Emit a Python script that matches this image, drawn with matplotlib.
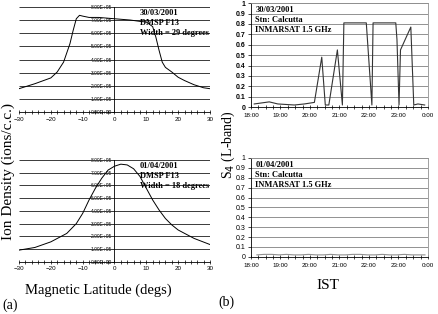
import numpy as np
import matplotlib
matplotlib.use("Agg")
import matplotlib.pyplot as plt
from matplotlib.ticker import FuncFormatter, MultipleLocator

# Ion density (x1e5 ions/c.c.) vs magnetic latitude, DMSP F13
lat_a = [-30, -25, -20, -18, -16, -14, -13, -12, -11, -10, -8, -5, 0, 5, 8, 10,
         12, 13, 14, 15, 16, 18, 20, 22, 25, 28, 30]
ni_a = [1.78, 2.16, 2.6, 3.05, 3.8, 5.2, 6.2, 7.1, 7.36, 7.3, 7.2, 7.2, 7.1, 7.0,
        6.9, 6.85, 6.5, 5.7, 4.7, 3.8, 3.4, 3.05, 2.65, 2.4, 2.08, 1.85, 1.78]
lat_b = [-30, -25, -20, -15, -12, -10, -8, -6, -4, -2, 0, 2, 4, 6, 8, 10, 12, 14,
         16, 18, 20, 25, 30]
ni_b = [0.92, 1.13, 1.57, 2.23, 3.0, 3.8, 4.85, 5.77, 6.56, 7.2, 7.5, 7.66, 7.6,
        7.3, 6.7, 5.77, 4.85, 4.07, 3.4, 2.9, 2.5, 1.84, 1.36]

# S4 index (L-band) vs IST hour, Calcutta
t_a = [18.11, 18.62, 18.91, 19.47, 19.81, 20.15, 20.40, 20.52, 20.64, 20.93, 21.10,
       21.15, 21.91, 22.10, 22.14, 22.91, 22.95, 23.02, 23.07, 23.42, 23.52, 23.66, 23.89]
s4_a = [0.03, 0.05, 0.03, 0.02, 0.03, 0.045, 0.48, 0.02, 0.02, 0.55, 0.02,
        0.81, 0.81, 0.02, 0.81, 0.81, 0.65, 0.02, 0.55, 0.77, 0.02, 0.03, 0.02]
t_b = [18.2, 18.45, 18.7, 18.95, 19.2, 19.45, 19.7, 19.95, 20.2, 20.45, 20.7, 20.95,
       21.2, 21.45, 21.7, 21.95, 22.2, 22.45, 22.7, 22.95, 23.2, 23.45, 23.7, 23.9]
s4_b = [0.02, 0.025, 0.025, 0.02, 0.025, 0.02, 0.02, 0.025, 0.02, 0.02, 0.025, 0.02,
        0.02, 0.025, 0.025, 0.02, 0.02, 0.025, 0.02, 0.02, 0.025, 0.02, 0.02, 0.02]

time_ticks = [18, 19, 20, 21, 22, 23, 24]
time_labels = ["18:00", "19:00", "20:00", "21:00", "22:00", "23:00", "0:00"]
dens_ticks = [0, 1e5, 2e5, 3e5, 4e5, 5e5, 6e5, 7e5, 8e5]

serif = "Liberation Serif"
sans = "Liberation Sans"

fig = plt.figure(figsize=(4.38, 3.14), dpi=100)


def density_panel(rect, x, y, note):
    ax = fig.add_axes(rect)
    ax.set_xlim(-30, 30)
    ax.set_ylim(0, 8e5)
    ax.hlines(dens_ticks[1:], -30, 30, colors="#3a3a3a", linewidth=0.7)
    ax.plot(x, [v * 1e5 for v in y], color="black", lw=0.7)
    ax.set_xlim(-30, 30)
    ax.set_ylim(0, 8e5)
    for s in ["top", "right"]:
        ax.spines[s].set_visible(False)
    ax.spines["left"].set_position(("data", 0))
    ax.spines["left"].set_linewidth(0.6)
    ax.spines["bottom"].set_linewidth(0.6)
    ax.set_yticks(dens_ticks)
    ax.yaxis.set_major_formatter(FuncFormatter(lambda v, p: "%.2fE+05" % (v / 1e5) if v > 0 else "0.00E+00"))
    ax.set_xticks([-30, -20, -10, 0, 10, 20, 30])
    ax.xaxis.set_minor_locator(MultipleLocator(2))
    ax.tick_params(axis="y", labelsize=3.5, length=1.5, width=0.5, pad=0.5)
    ax.tick_params(axis="x", which="both", direction="inout", length=2.5, width=0.5, labelsize=4.5, pad=2)
    for lab in ax.get_xticklabels() + ax.get_yticklabels():
        lab.set_fontfamily(sans)
    ax.text(8, 7.85e5, note, fontsize=6, fontweight="bold", family=serif,
            va="top", ha="left", linespacing=1.35)
    return ax


def s4_panel(rect, t, s, note, color, bold):
    ax = fig.add_axes(rect)
    ax.plot(t, s, color=color, lw=0.8, zorder=3)
    ax.set_xlim(18, 24)
    ax.set_ylim(0, 1)
    ax.set_yticks(np.arange(0, 1.01, 0.1))
    ax.yaxis.set_major_formatter(FuncFormatter(lambda v, p: "%g" % round(v, 1)))
    ax.set_xticks(time_ticks)
    ax.set_xticklabels(time_labels)
    ax.xaxis.set_minor_locator(MultipleLocator(0.25))
    ax.grid(axis="y", color="#808080", lw=0.6)
    ax.set_axisbelow(True)
    for s_ in ["top", "right"]:
        ax.spines[s_].set_color("#909090")
        ax.spines[s_].set_linewidth(0.6)
    ax.spines["left"].set_linewidth(0.6)
    ax.spines["bottom"].set_linewidth(0.6)
    ax.tick_params(axis="y", labelsize=5, length=2, width=0.5, pad=2)
    ax.tick_params(axis="x", which="both", direction="inout", length=2.5, width=0.5, labelsize=4.5, pad=3)
    for lab in ax.get_yticklabels():
        lab.set_fontfamily(sans)
        if bold:
            lab.set_fontweight("bold")
    for lab in ax.get_xticklabels():
        lab.set_fontfamily(sans)
    ax.text(18.15, 0.97, note, fontsize=6, fontweight="bold", family=serif,
            va="top", ha="left", linespacing=1.35)
    return ax


density_panel([0.0434, 0.643, 0.436, 0.335], lat_a, ni_a, "30/03/2001\nDMSP F13\nWidth = 29 degrees")
density_panel([0.0434, 0.166, 0.436, 0.325], lat_b, ni_b, "01/04/2001\nDMSP F13\nWidth = 18 degrees")
s4_panel([0.573, 0.659, 0.404, 0.331], t_a, s4_a, "30/03/2001\nStn: Calcutta\nINMARSAT 1.5 GHz", "#333333", True)
s4_panel([0.573, 0.182, 0.404, 0.315], t_b, s4_b, "01/04/2001\nStn: Calcutta\nINMARSAT 1.5 GHz", "#909090", False)

fig.text(0.019, 0.455, "Ion Density (ions/c.c.)", rotation=90, fontsize=11, family=serif, ha="center", va="center")
fig.text(0.225, 0.076, "Magnetic Latitude (degs)", fontsize=10.5, family=serif, ha="center", va="center")
fig.text(0.005, 0.028, "(a)", fontsize=10, family=serif, ha="left", va="center")
fig.text(0.521, 0.54, "S$_4$ (L-band)", rotation=90, fontsize=10, family=serif, ha="center", va="center")
fig.text(0.749, 0.092, "IST", fontsize=11, family=serif, ha="center", va="center")
fig.text(0.498, 0.038, "(b)", fontsize=10, family=serif, ha="left", va="center")

fig.savefig("out.png", dpi=100)
